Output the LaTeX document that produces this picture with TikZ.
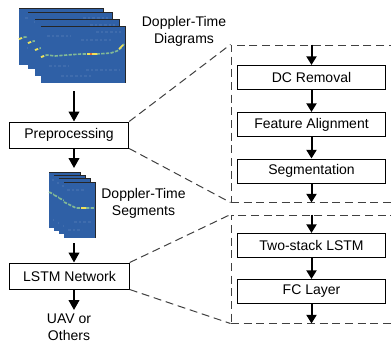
\documentclass[tikz,border=0pt]{standalone}
\usepackage{fontspec}
\setmainfont{Liberation Sans}
\usetikzlibrary{arrows.meta,positioning}

\definecolor{specblue}{RGB}{47,96,166}
\definecolor{tracelow}{RGB}{130,185,150}
\definecolor{tracehigh}{RGB}{240,225,90}
\definecolor{tracehot}{RGB}{225,75,40}

\tikzset{
  stepbox/.style={draw=black, line width=0.75pt, rectangle, inner sep=0pt,
    minimum width=111pt, minimum height=18pt, font=\fontsize{10.5}{12.75}\selectfont},
  mainbox/.style={stepbox, minimum width=89.5pt, minimum height=19.5pt},
  zoombox/.style={draw=black!75, line width=0.75pt, dash pattern=on 6pt off 3.5pt,
    rectangle, inner sep=0pt},
  zoomline/.style={draw=black!75, line width=0.75pt, dash pattern=on 6pt off 3.5pt},
  flow/.style={-{Triangle[width=8pt,length=7.5pt]}, line width=1.5pt},
  subflow/.style={-{Triangle[width=7.5pt,length=6.5pt]}, line width=1.5pt},
  lbl/.style={align=center, inner sep=0pt, font=\fontsize{10.5}{12.75}\selectfont},
  speck/.style={specblue!80!white, line width=0.8pt, opacity=0.4, dash pattern=on 2pt off 1.5pt},
  trace/.style={tracelow, line width=1.2pt, line join=round, dash pattern=on 2.5pt off 1pt},
  edge/.style={black!85, line width=0.7pt}
}

\begin{document}
\begin{tikzpicture}[x=0.75pt,y=-0.75pt]
  \useasboundingbox (0,0) rectangle (391,343);
  \clip (0,0) rectangle (391,343);

  % doppler-time diagrams
  \foreach \dx/\dy in {0/0,9/4,16/11,22/18}
    {
    \begin{scope}[shift={(19+\dx,8+\dy)}]
      \fill[specblue] (0,0) rectangle (84,57);
      \draw[speck] (6,10) -- (30,10) (40,14) -- (70,14) (8,40) -- (28,40)
        (45,44) -- (78,44) (20,50) -- (50,50) (55,6) -- (80,6);
      \draw[trace] (0,31) -- (6,29) -- (14,30) -- (26,29) -- (40,28) -- (56,28)
        -- (70,27) -- (76,25) -- (80,22) -- (83,18);
      \draw[tracehigh, line width=1.3pt] (0,31) -- (3,30) (46,28) -- (56,28) (78,23) -- (82,19);
      \fill[tracehot] (50,28) circle (1.2);
      \draw[edge] (0,0) -- (84,0) -- (84,57);
    \end{scope}
    }
  \node[lbl] (dtlabel) at (184,31) {Doppler-Time\\Diagrams};

  % doppler-time segments
  \foreach \dx/\dy in {0/0,5/3,10/6,15/10}
    {
    \begin{scope}[shift={(49+\dx,172+\dy)}]
      \fill[specblue] (0,0) rectangle (31,56);
      \draw[speck] (3,8) -- (20,8) (10,40) -- (28,40) (4,48) -- (18,48);
      \draw[trace] (0,20) -- (6,23) -- (12,26) -- (22,26) -- (31,26);
      \draw[tracehigh, line width=1.3pt] (17,26) -- (22,26);
      \draw[edge] (0,0) -- (31,0) -- (31,56);
    \end{scope}
    }
  \node[lbl] (sglabel) at (143.5,203.5) {Doppler-Time\\Segments};

  % main column
  \coordinate (ax) at (74,0);
  \node[mainbox] (pre) at (69,135) {Preprocessing};
  \node[mainbox] (lstm) at (69.5,276) {LSTM Network};
  \node[lbl] (uav) at (69,327.5) {UAV or\\Others};
  \coordinate (dtout) at (74,91);
  \coordinate (sgin) at (74,168);
  \coordinate (sgout) at (74,243);
  \coordinate (uavin) at (74,310);

  \draw[flow] (dtout) -- (pre.north -| ax);
  \draw[flow] (pre.south -| ax) -- (sgin);
  \draw[flow] (sgout) -- (lstm.north -| ax);
  \draw[flow] (lstm.south -| ax) -- (uavin);

  % zoomed preprocessing
  \node[zoombox, minimum width=126.75pt, minimum height=117.75pt] (zpre) at (315.5,123.5) {};
  \node[stepbox] (dc) at (311.5,77.5) {DC Removal};
  \node[stepbox] (fa) at (311.5,124.5) {Feature Alignment};
  \node[stepbox] (seg) at (311.5,171) {Segmentation};
  \draw[subflow] (zpre.north -| dc.north) -- (dc.north);
  \draw[subflow] (dc) -- (fa);
  \draw[subflow] (fa) -- (seg);
  \draw[subflow] (seg.south) -- (seg.south |- zpre.south);

  % zoomed lstm network
  \node[zoombox, minimum width=126.75pt, minimum height=81pt] (zlstm) at (315.5,269) {};
  \node[stepbox] (two) at (311.5,245.5) {Two-stack LSTM};
  \node[stepbox] (fc) at (311.5,291.5) {FC Layer};
  \draw[subflow] (zlstm.north -| two.north) -- (two.north);
  \draw[subflow] (two) -- (fc);
  \draw[subflow] (fc.south) -- (fc.south |- zlstm.south);

  % zoom lines
  \draw[zoomline] (pre.north east) -- (zpre.north west);
  \draw[zoomline] (pre.south east) -- (zpre.south west);
  \draw[zoomline] (lstm.north east) -- (zlstm.north west);
  \draw[zoomline] (lstm.south east) -- (zlstm.south west);
\end{tikzpicture}
\end{document}
